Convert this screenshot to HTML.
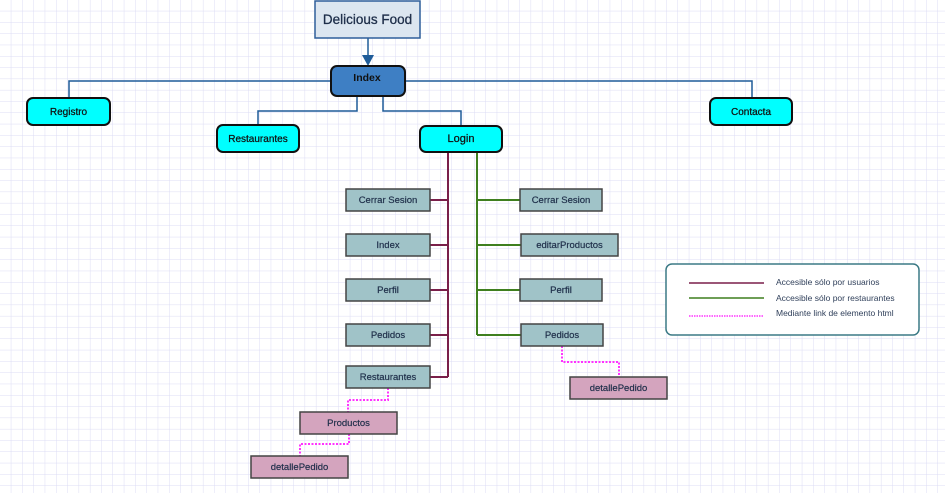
<!DOCTYPE html>
<html><head><meta charset="utf-8"><style>
html,body{margin:0;padding:0;width:945px;height:493px;overflow:hidden;background:#fff}
svg{display:block}
text{font-family:"Liberation Sans",Arial,sans-serif}
</style></head><body>
<svg width="945" height="493" xmlns="http://www.w3.org/2000/svg">
<defs>
<pattern id="g" width="11.3" height="11.3" patternUnits="userSpaceOnUse">
<path d="M11.3 0V11.3M0 11.3H11.3" stroke="#dcdcf4" stroke-width="1" fill="none"/>
</pattern>
</defs>
<rect width="945" height="493" fill="url(#g)"/>
<g stroke="#1f5c99" stroke-width="1.5" fill="none">
<path d="M69 98V81H752V98"/>
<path d="M357 96V111H258V125"/>
<path d="M383 96V111H461V126"/>
<path d="M368 38V58"/>
</g>
<path d="M362 55H374L368 66Z" fill="#1f5c99"/>
<g stroke="#7a1f4a" stroke-width="2" fill="none">
<path d="M448 152V377"/>
<path d="M430 200H448M430 245H448M430 290H448M430 335H448M430 377H448"/>
</g>
<g stroke="#3f7f1f" stroke-width="2" fill="none">
<path d="M477 152V335"/>
<path d="M477 200H520M477 245H521M477 290H520M477 335H521"/>
</g>
<g stroke="#ff33ff" stroke-width="2" stroke-dasharray="2,1.5" fill="none">
<path d="M562 346V362H619V377"/>
<path d="M388 388V400H348V412"/>
<path d="M349 434V444H300V456"/>
</g>
<rect x="315" y="1" width="105" height="37" fill="#dce6f0" stroke="#2f5f9a" stroke-width="1.5"/>
<text x="367.5" y="24" font-size="13.5" text-anchor="middle" fill="#1f2f4a" stroke="#1f2f4a" stroke-width="0.3">Delicious Food</text>
<rect x="331" y="66" width="74" height="30" rx="6" fill="#3e7fc4" stroke="#111" stroke-width="2"/>
<text x="367" y="81" font-size="10.5" font-weight="bold" text-anchor="middle" fill="#111">Index</text>
<g fill="#00ffff" stroke="#111" stroke-width="2">
<rect x="27" y="98" width="83" height="27" rx="6"/>
<rect x="710" y="98" width="82" height="27" rx="6"/>
<rect x="217" y="125" width="82" height="27" rx="6"/>
<rect x="420" y="126" width="82" height="26" rx="6"/>
</g>
<g font-size="10" text-anchor="middle" fill="#111" stroke="#111" stroke-width="0.25">
<text x="68.5" y="115">Registro</text>
<text x="751" y="115">Contacta</text>
<text x="258" y="142">Restaurantes</text>
<text x="461" y="142" font-size="11">Login</text>
</g>
<g fill="#a0c3c8" stroke="#444" stroke-width="1.5">
<rect x="346" y="189" width="84" height="22"/>
<rect x="346" y="234" width="84" height="22"/>
<rect x="346" y="279" width="84" height="22"/>
<rect x="346" y="324" width="84" height="22"/>
<rect x="346" y="366" width="84" height="22"/>
<rect x="520" y="189" width="82" height="22"/>
<rect x="521" y="234" width="97" height="22"/>
<rect x="520" y="279" width="82" height="22"/>
<rect x="521" y="324" width="82" height="22"/>
</g>
<g fill="#d4a4be" stroke="#444" stroke-width="1.5">
<rect x="570" y="377" width="97" height="22"/>
<rect x="300" y="412" width="97" height="22"/>
<rect x="251" y="456" width="97" height="22"/>
</g>
<g font-size="9.5" text-anchor="middle" fill="#1f2f4a" stroke="#1f2f4a" stroke-width="0.2">
<text x="388" y="203">Cerrar Sesion</text>
<text x="388" y="248">Index</text>
<text x="388" y="293">Perfil</text>
<text x="388" y="338">Pedidos</text>
<text x="388" y="380">Restaurantes</text>
<text x="561" y="203">Cerrar Sesion</text>
<text x="569.5" y="248">editarProductos</text>
<text x="561" y="293">Perfil</text>
<text x="562" y="338">Pedidos</text>
<text x="618.5" y="391">detallePedido</text>
<text x="348.5" y="426">Productos</text>
<text x="299.5" y="470">detallePedido</text>
</g>
<rect x="666" y="264" width="253" height="71" rx="6" fill="#fff" stroke="#3b7a85" stroke-width="1.5"/>
<path d="M689 283H764" stroke="#7a1f4a" stroke-width="1.5"/>
<path d="M689 298H764" stroke="#3f7f1f" stroke-width="1.5"/>
<path d="M689 316H764" stroke="#ff33ff" stroke-width="1.5" stroke-dasharray="1.5,1"/>
<g font-size="8.5" fill="#2f3f5a">
<text x="776" y="285">Accesible sólo por usuarios</text>
<text x="776" y="301">Accesible sólo por restaurantes</text>
<text x="776" y="316">Mediante link de elemento html</text>
</g>
</svg>
</body></html>
